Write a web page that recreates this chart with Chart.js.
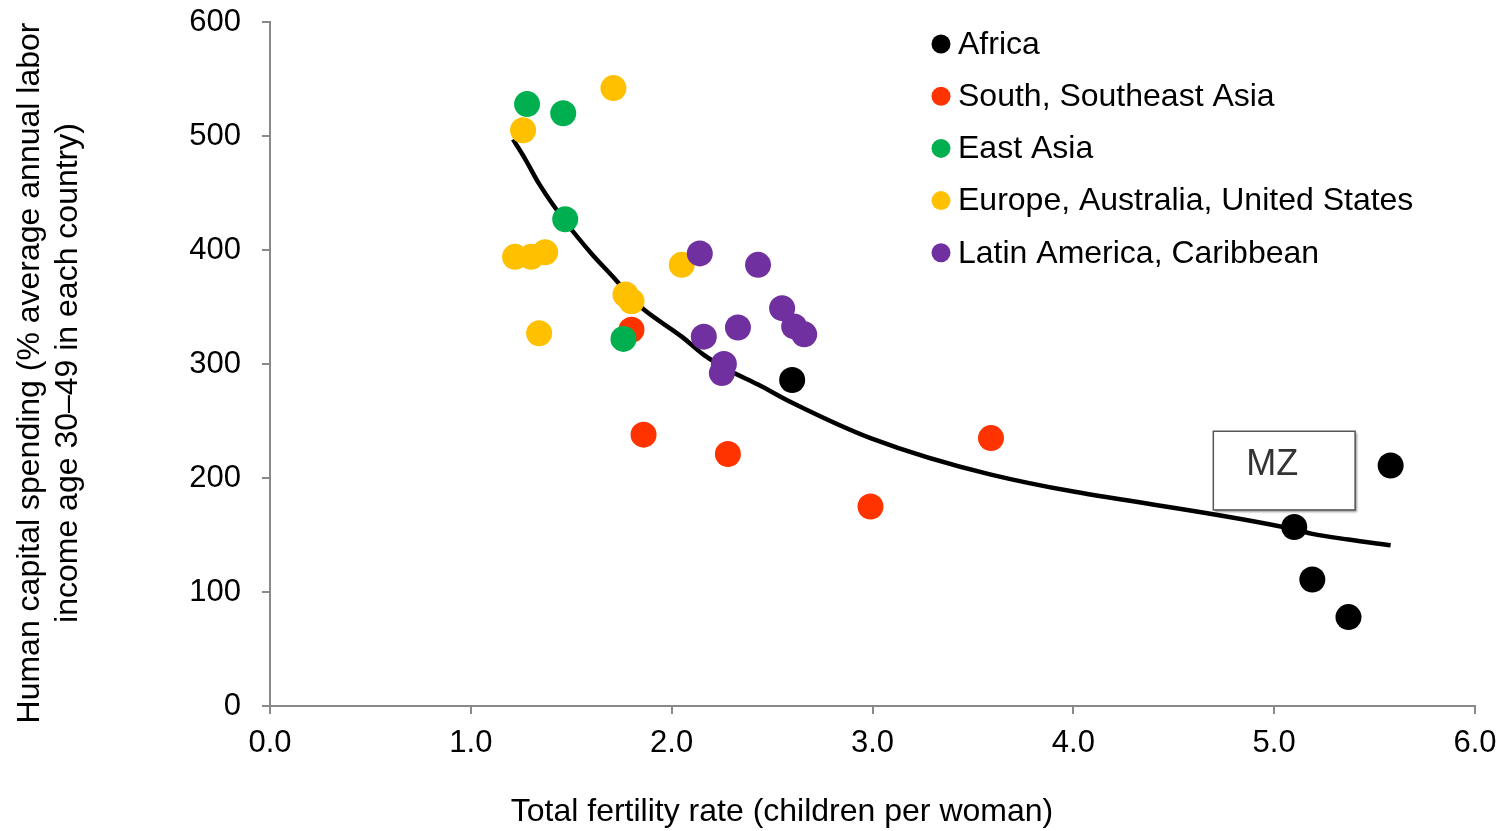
<!DOCTYPE html>
<html lang="en">
<head>
    <meta charset="UTF-8">
    <title>Human capital spending and fertility</title>
    <script src="https://cdn.jsdelivr.net/npm/chart.js"></script>
    <style>
        body {
            margin: 0;
            background: #fff;
            font-family: "Liberation Sans", Arial, sans-serif;
        }
        .container {
            width: 1508px;
            height: 831px;
        }
    </style>
</head>
<body>
    <div class="container">
        <canvas id="fertilityChart" width="1508" height="831"></canvas>
    </div>

    <script>
        // Points (fertility rate, spending %)
        const africaX = [2.60, 5.10, 5.19, 5.37, 5.58];
        const africaY = [286, 157, 111, 78, 211];

        const southAsiaX = [1.80, 1.86, 2.28, 2.99, 3.59];
        const southAsiaY = [330, 238, 221, 175, 235];

        const eastAsiaX = [1.28, 1.46, 1.47, 1.76];
        const eastAsiaY = [528, 520, 427, 322];

        const europeX = [1.71, 1.26, 1.22, 1.30, 1.37, 2.05, 1.77, 1.80, 1.34];
        const europeY = [542, 505, 394, 394, 398, 387, 361, 355, 327];

        const latinX = [2.14, 2.43, 2.55, 2.61, 2.66, 2.33, 2.16, 2.26, 2.25];
        const latinY = [397, 387, 349, 333, 326, 332, 324, 300, 292];

        // Fitted trend line
        const trendX = [1.21, 1.27, 1.34, 1.47, 1.60, 1.71, 1.80, 1.86, 2.05, 2.16, 2.28, 2.43, 2.60, 2.99, 3.59, 5.10, 5.19, 5.37, 5.58];
        const trendY = [497, 480, 458, 425, 397, 376, 358, 348, 324, 308, 295, 282, 266, 235, 203, 155, 151, 146, 141];

        const regionNames = ['Africa', 'South, Southeast Asia', 'East Asia', 'Europe, Australia, United States', 'Latin America, Caribbean'];
        const regionColors = ['#000000', '#FF3300', '#00B050', '#FFC000', '#7030A0'];

        const xTicks = [0, 1, 2, 3, 4, 5, 6];
        const yTicks = [0, 100, 200, 300, 400, 500, 600];

        const xTitle = 'Total fertility rate (children per woman)';
        const yTitle = ['Human capital spending (% average annual labor', 'income age 30\u201349 in each country)'];
        const boxLabel = 'MZ';

        const FONT = '"Liberation Sans", Arial, sans-serif';
        const AXIS_GREY = '#898989';

        function toPoints(xs, ys) {
            return xs.map((x, i) => ({ x: x, y: ys[i] }));
        }

        const regionPoints = [
            toPoints(africaX, africaY),
            toPoints(southAsiaX, southAsiaY),
            toPoints(eastAsiaX, eastAsiaY),
            toPoints(europeX, europeY),
            toPoints(latinX, latinY)
        ];

        // Excel draws later series on top, so reverse the order values
        const datasets = regionPoints.map((pts, i) => ({
            label: regionNames[i],
            data: pts,
            backgroundColor: regionColors[i],
            borderWidth: 0,
            pointRadius: 13,
            order: 5 - i
        }));

        datasets.push({
            label: 'trend',
            type: 'line',
            data: toPoints(trendX, trendY),
            borderColor: '#000',
            borderWidth: 4.5,
            pointRadius: 0,
            cubicInterpolationMode: 'monotone',
            fill: false,
            order: 10
        });

        // Legend drawn in the top right of the plot, like the original
        const regionLegend = {
            id: 'regionLegend',
            afterDraw(chart) {
                const { ctx, chartArea } = chart;
                ctx.save();
                ctx.font = '32px ' + FONT;
                ctx.textBaseline = 'middle';
                ctx.textAlign = 'left';
                regionNames.forEach((name, i) => {
                    const x = chartArea.left + 671;
                    const y = chartArea.top + 22 + i * 52.2;
                    ctx.fillStyle = regionColors[i];
                    ctx.beginPath();
                    ctx.arc(x, y, 9.5, 0, Math.PI * 2);
                    ctx.fill();
                    ctx.fillStyle = '#000';
                    ctx.fillText(name, x + 17, y + 1);
                });
                ctx.restore();
            }
        };

        // Axis titles are a little off the plot centre in the original,
        // so they are placed by hand instead of by the scales
        const axisTitles = {
            id: 'axisTitles',
            afterDraw(chart) {
                const { ctx, chartArea } = chart;
                ctx.save();
                ctx.font = '32px ' + FONT;
                ctx.fillStyle = '#000';
                ctx.textAlign = 'center';
                ctx.textBaseline = 'middle';
                ctx.fillText(xTitle, chartArea.left + 512, chart.height - 19);

                ctx.translate(0, chartArea.top + 351);
                ctx.rotate(-Math.PI / 2);
                yTitle.forEach((line, i) => {
                    ctx.fillText(line, 0, 30 + i * 38);
                });
                ctx.restore();
            }
        };

        // The "MZ" callout box near the Africa points
        const mzBox = {
            id: 'mzBox',
            afterDatasetsDraw(chart) {
                const { ctx } = chart;
                const xs = chart.scales.x;
                const ys = chart.scales.y;
                const x0 = xs.getPixelForValue(4.697);
                const x1 = xs.getPixelForValue(5.403);
                const y0 = ys.getPixelForValue(241);
                const y1 = ys.getPixelForValue(172);
                ctx.save();
                ctx.shadowColor = 'rgba(0,0,0,0.4)';
                ctx.shadowBlur = 2;
                ctx.shadowOffsetX = 2;
                ctx.shadowOffsetY = 2;
                ctx.fillStyle = '#fff';
                ctx.fillRect(x0, y0, x1 - x0, y1 - y0);
                ctx.shadowColor = 'transparent';
                ctx.strokeStyle = '#555';
                ctx.lineWidth = 1.5;
                ctx.strokeRect(x0, y0, x1 - x0, y1 - y0);
                ctx.fillStyle = '#333';
                ctx.font = '36px ' + FONT;
                ctx.textAlign = 'center';
                ctx.textBaseline = 'middle';
                ctx.fillText(boxLabel, x0 + 59, y0 + 34);
                ctx.restore();
            }
        };

        const ctx = document.getElementById('fertilityChart').getContext('2d');
        new Chart(ctx, {
            type: 'scatter',
            data: { datasets: datasets },
            options: {
                responsive: false,
                animation: false,
                layout: {
                    padding: { top: 22, right: 33, left: 0, bottom: 0 }
                },
                plugins: {
                    legend: { display: false },
                    tooltip: { enabled: false }
                },
                scales: {
                    x: {
                        type: 'linear',
                        position: 'bottom',
                        min: 0,
                        max: 6,
                        afterBuildTicks: scale => { scale.ticks = xTicks.map(v => ({ value: v })); },
                        afterFit: scale => { scale.height = 125; },
                        border: { color: AXIS_GREY, width: 2 },
                        grid: { drawOnChartArea: false, drawTicks: true, tickLength: 8, color: AXIS_GREY, lineWidth: 2 },
                        ticks: {
                            color: '#000',
                            padding: 11,
                            font: { family: FONT, size: 31 },
                            callback: v => v.toFixed(1)
                        },
                        title: { display: false }
                    },
                    y: {
                        type: 'linear',
                        min: 0,
                        max: 600,
                        afterBuildTicks: scale => { scale.ticks = yTicks.map(v => ({ value: v })); },
                        afterFit: scale => {
                            scale.width = 270;
                            // the large label padding should not push the plot down
                            scale.paddingTop = 0;
                            scale.paddingBottom = 0;
                        },
                        border: { color: AXIS_GREY, width: 2 },
                        grid: { drawOnChartArea: false, drawTicks: true, tickLength: 8, color: AXIS_GREY, lineWidth: 2 },
                        ticks: {
                            color: '#000',
                            padding: 21,
                            font: { family: FONT, size: 31 }
                        },
                        title: { display: false }
                    }
                }
            },
            plugins: [regionLegend, axisTitles, mzBox]
        });
    </script>
</body>
</html>
